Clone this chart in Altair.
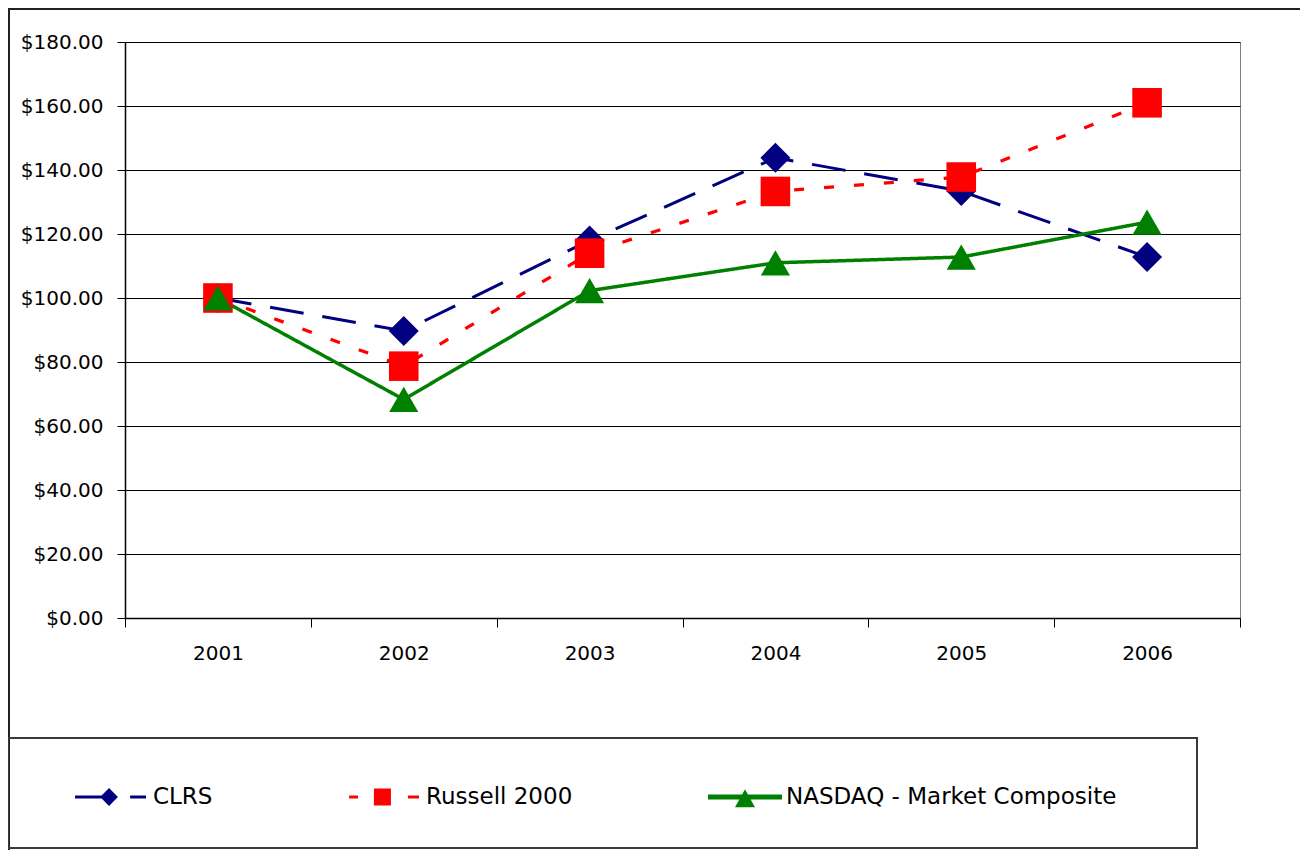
import altair as alt
import pandas as pd

years = ["2001", "2002", "2003", "2004", "2005", "2006"]
series_names = ["CLRS", "Russell 2000", "NASDAQ - Market Composite"]
clrs = [100, 89.7, 118, 143.8, 133.4, 112.8]
russell = [100, 78.7, 114, 133.3, 137.8, 161]
nasdaq = [100, 68.3, 102.3, 111, 112.8, 123.7]
y_ticks = [0, 20, 40, 60, 80, 100, 120, 140, 160, 180]

colors = ["#000080", "#FF0000", "#008000"]
dashes = [[34, 19], [10, 20], [1, 0]]
line_widths = [3, 3.5, 3.8]
marker_shapes = ["diamond", "square", "triangle-up"]
marker_sizes = [900, 850, 650]
legend_symbols = [
    "M-1,-0.04H-0.2V0.04H-1Z M-0.32,0L-0.08,-0.24L0.16,0L-0.08,0.24Z M0.49,-0.04H0.92V0.04H0.49Z",
    "M-0.97,-0.04H-0.73V0.04H-0.97Z M-0.3,-0.23H0.16V0.23H-0.3Z M0.62,-0.04H0.92V0.04H0.62Z",
    "M-1,-0.065H1V0.065H-1Z M-0.27,0.28L0,-0.21L0.27,0.28Z",
]

rows = []
for name, vals in zip(series_names, [clrs, russell, nasdaq]):
    for yr, v in zip(years, vals):
        rows.append({"year": yr, "series": name, "value": v})
df = pd.DataFrame(rows)

FONT = "DejaVu Sans"

x_enc = alt.X(
    "year:O",
    scale=alt.Scale(type="band", paddingInner=0, paddingOuter=0, domain=years),
    bandPosition=0.5,
    axis=alt.Axis(
        title=None, labelAngle=0, tickBand="extent", tickSize=9, tickColor="black",
        domainColor="black", domainWidth=1.5, labelFont=FONT, labelFontSize=20,
        labelColor="black", labelPadding=16, grid=False,
    ),
)
y_enc = alt.Y(
    "value:Q",
    scale=alt.Scale(domain=[0, 180], nice=False),
    axis=alt.Axis(
        title=None, values=y_ticks, format="$,.2f", tickSize=8, tickColor="black",
        domainColor="black", domainWidth=1.5, labelFont=FONT, labelFontSize=20,
        labelColor="black", labelPadding=14, grid=True, gridColor="black",
        gridWidth=1, gridOpacity=1,
    ),
)

lines = alt.Chart(df).mark_line().encode(
    x=x_enc, y=y_enc,
    color=alt.Color("series:N", scale=alt.Scale(domain=series_names, range=colors), legend=None),
    strokeDash=alt.StrokeDash("series:N", scale=alt.Scale(domain=series_names, range=dashes), legend=None),
    strokeWidth=alt.StrokeWidth("series:N", scale=alt.Scale(domain=series_names, range=line_widths), legend=None),
    order=alt.Order("year:O"),
)

points = alt.Chart(df).mark_point(filled=True, opacity=1).encode(
    x=x_enc, y=y_enc,
    color=alt.Color("series:N", scale=alt.Scale(domain=series_names, range=colors), legend=None),
    shape=alt.Shape("series:N", scale=alt.Scale(domain=series_names, range=marker_shapes), legend=None),
    size=alt.Size("series:N", scale=alt.Scale(domain=series_names, range=marker_sizes), legend=None),
)

leg = alt.Legend(
    title=None, orient="none", legendX=-50, legendY=718, direction="horizontal",
    symbolSize=5476, symbolStrokeWidth=0, symbolOpacity=1,
    labelFont=FONT, labelFontSize=23, labelColor="black", labelOffset=4,
    labelLimit=600, columnPadding=135,
)

legend_layer = alt.Chart(df).transform_filter("datum.value < 0").mark_point(
    filled=True, opacity=1, strokeWidth=0
).encode(
    x=x_enc, y=y_enc,
    color=alt.Color("series:N", scale=alt.Scale(domain=series_names, range=colors), legend=leg),
    shape=alt.Shape("series:N", scale=alt.Scale(domain=series_names, range=legend_symbols), legend=leg),
)

box_df = pd.DataFrame({"k": [0]})
legend_box = alt.Chart(box_df).mark_rect(fill="transparent", stroke="#3a3a3a", strokeWidth=2).encode(
    x=alt.value(-117), x2=alt.value(1072), y=alt.value(696), y2=alt.value(806)
)
outer_box = alt.Chart(box_df).mark_rect(fill="transparent", stroke="#222222", strokeWidth=2).encode(
    x=alt.value(-116), x2=alt.value(1500), y=alt.value(-33), y2=alt.value(1000)
)

chart = alt.layer(outer_box, legend_box, lines, points, legend_layer).resolve_scale(
    color="independent", shape="independent"
).properties(
    width=1115, height=576,
    autosize=alt.AutoSizeParams(type="none"),
    padding={"left": 117, "top": 34, "right": 60, "bottom": 232},
).configure_view(stroke="#808080", strokeWidth=1)

chart.save("out.html", embed_options={"renderer": "svg", "actions": False})
